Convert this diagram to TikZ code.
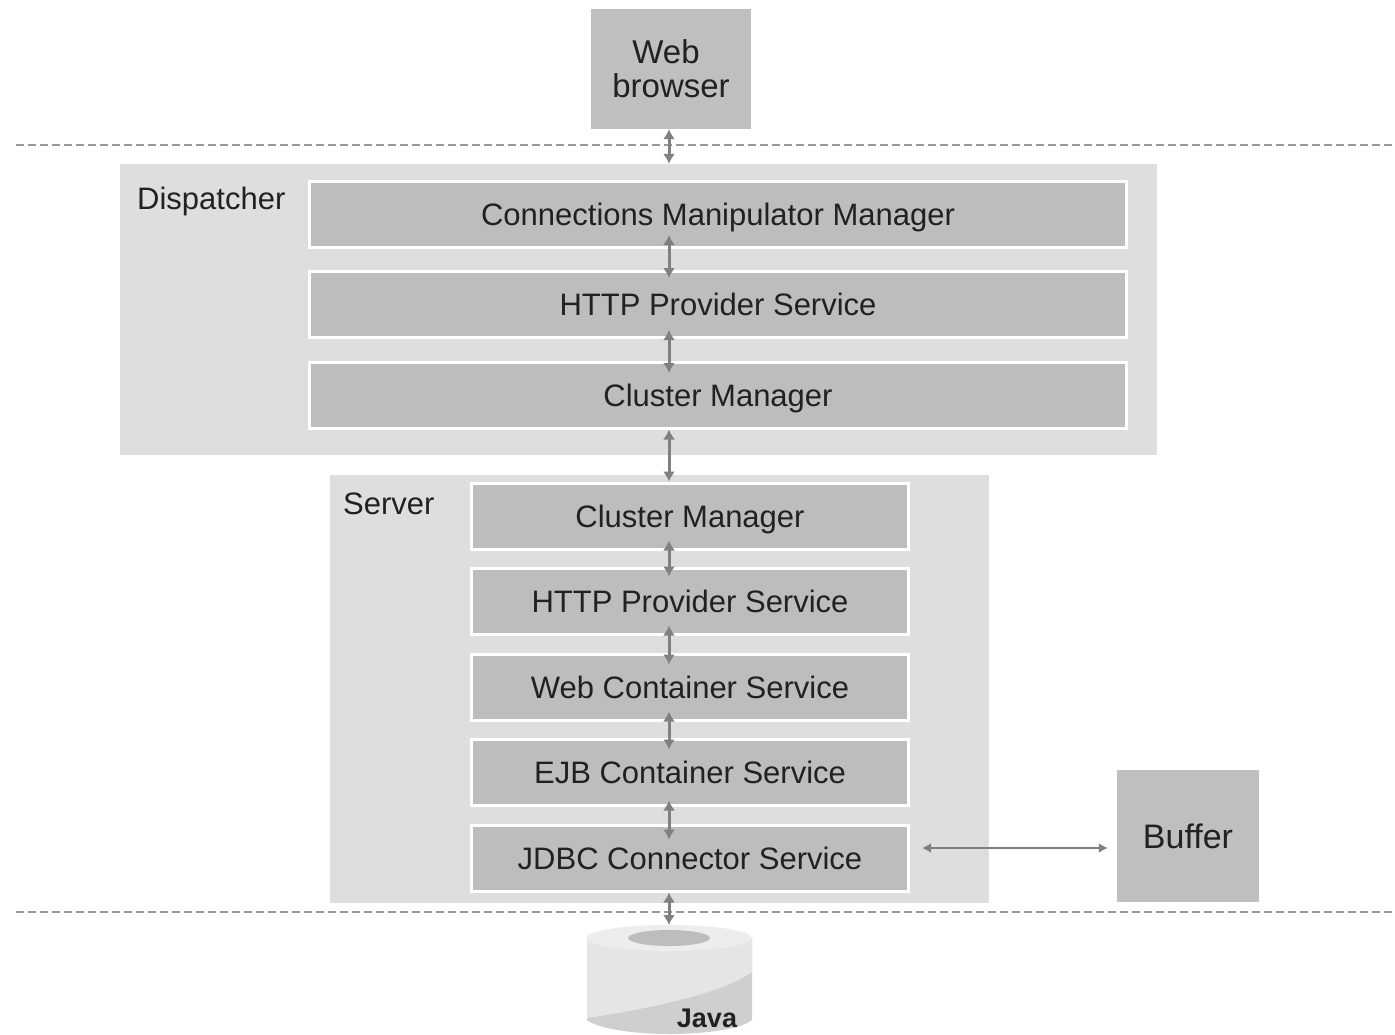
\documentclass[tikz,border=0pt]{standalone}
\usepackage{fontspec}
\setmainfont{Liberation Sans}
\usetikzlibrary{arrows.meta}
\definecolor{pane}{gray}{0.87}
\definecolor{bar}{gray}{0.74}
\definecolor{solid}{gray}{0.75}
\definecolor{link}{gray}{0.50}
\definecolor{txt}{gray}{0.13}
\tikzset{
  x=1pt,y=-1pt,
  every node/.style={text=txt,font=\fontsize{31}{34}\selectfont},
  pane box/.style={fill=pane,draw=none,inner sep=0pt,minimum width=#1},
  bar box/.style={fill=bar,draw=white,line width=3pt,inner sep=0pt,minimum height=66pt,minimum width=#1,text height=24pt,text depth=2pt},
  solid box/.style={fill=solid,draw=none,inner sep=0pt,align=center,font=\fontsize{33}{34}\selectfont},
  link line/.style={draw=link,line width=3pt,{Latex[length=10pt,width=12pt]}-{Latex[length=10pt,width=12pt]}},
  thin link/.style={draw=link,line width=1.8pt,{Latex[length=9pt,width=10pt]}-{Latex[length=9pt,width=10pt]}},
  tier line/.style={draw=gray!80,line width=1.8pt,dash pattern=on 8pt off 4pt},
  caption/.style={inner sep=0pt,anchor=west,text height=24pt,text depth=2pt},
}
\begin{document}
\begin{tikzpicture}
\useasboundingbox (0,0) rectangle (1395,1034);
\fill[white] (0,0) rectangle (1395,1034);
% panes
\node[pane box=1037pt,minimum height=291pt] (disp) at (638.5,309.5) {};
\node[pane box=659pt,minimum height=428pt] (serv) at (659.5,689) {};
\node[caption] (displabel) at (137,198) {Dispatcher};
\node[caption] (servlabel) at (343,503) {Server};
% tier lines
\coordinate (tl1) at (16,145); \coordinate (tr1) at (1395,145);
\coordinate (tl2) at (16,912); \coordinate (tr2) at (1395,912);
\draw[tier line] (tl1) -- (tr1);
\draw[tier line] (tl2) -- (tr2);
% browser and buffer
\node[solid box,minimum width=160pt,minimum height=120pt] (web) at (671,69) {Web\hspace*{10pt}\\browser};
\node[solid box,minimum width=142pt,minimum height=132pt,font=\fontsize{34}{36}\selectfont,text height=25pt,text depth=0pt] (buffer) at (1188,836) {Buffer};
% dispatcher bars
\node[bar box=817pt] (d1) at (718,214) {Connections Manipulator Manager};
\node[bar box=817pt] (d2) at (718,304) {HTTP Provider Service};
\node[bar box=817pt] (d3) at (718,395) {Cluster Manager};
% server bars
\node[bar box=437pt] (s1) at (690,516) {Cluster Manager};
\node[bar box=437pt] (s2) at (690,601) {HTTP Provider Service};
\node[bar box=437pt] (s3) at (690,687) {Web Container Service};
\node[bar box=437pt] (s4) at (690,772) {EJB Container Service};
\node[bar box=437pt] (s5) at (690,858) {JDBC Connector Service};
% database
\fill[gray!38] (587,938) -- (587,1020) .. controls (600,1030) and (640,1034) .. (669,1034) .. controls (700,1034) and (740,1030) .. (752,1020) -- (752,938) -- cycle;
\fill[gray!20] (587,938) -- (587,1018) .. controls (640,1010) and (720,995) .. (752,972) -- (752,938) -- cycle;
\fill[gray!14] (669,938) ellipse [x radius=82.5pt,y radius=13pt];
\fill[gray!52] (669,938) ellipse [x radius=41pt,y radius=8pt];
\node[inner sep=0pt,font=\fontsize{27}{30}\selectfont\bfseries] (java) at (707,1018) {Java};
\coordinate (dbtop) at (669,925);
% connectors
\coordinate (ax) at (669,0);
\coordinate (by) at (0,848);
\draw[link line] (web.south -| ax) -- (disp.north -| ax);
\draw[link line,shorten <=-13.5pt,shorten >=-8.5pt] (d1.south -| ax) -- (d2.north -| ax);
\draw[link line,shorten <=-8.5pt,shorten >=-12.5pt] (d2.south -| ax) -- (d3.north -| ax);
\draw[link line] (d3.south -| ax) -- (s1.north -| ax);
\draw[link line,shorten <=-10pt,shorten >=-10pt] (s1.south -| ax) -- (s2.north -| ax);
\draw[link line,shorten <=-10pt,shorten >=-12pt] (s2.south -| ax) -- (s3.north -| ax);
\draw[link line,shorten <=-10pt,shorten >=-12pt] (s3.south -| ax) -- (s4.north -| ax);
\draw[link line,shorten <=-6pt,shorten >=-16pt] (s4.south -| ax) -- (s5.north -| ax);
\draw[link line] (s5.south -| ax) -- (dbtop);
\draw[thin link,shorten <=12pt,shorten >=9pt] (s5.east |- by) -- (buffer.west |- by);
\end{tikzpicture}
\end{document}
